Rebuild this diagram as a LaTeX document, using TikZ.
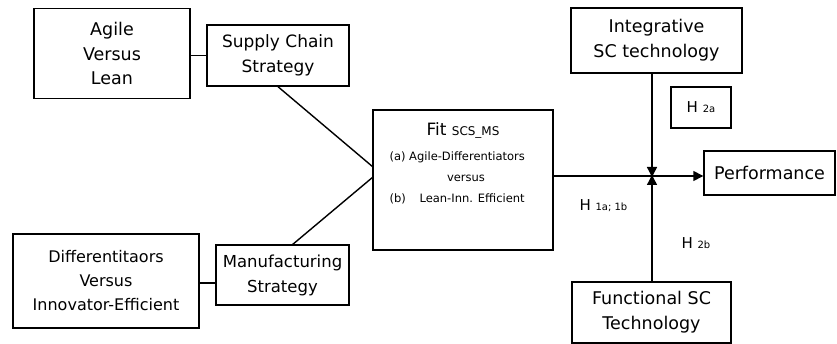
\documentclass[tikz,border=0pt]{standalone}
\usepackage{fontspec}
\setmainfont{DejaVu Sans}
\usetikzlibrary{arrows.meta}
\begin{document}
\begin{tikzpicture}[x=1pt,y=-1pt,
  box/.style={draw,line width=1.4pt,rectangle,inner sep=0pt,align=center},
  conn/.style={line width=1.4pt},
  arr/.style={line width=1.4pt,-{Triangle[length=10pt,width=10pt]}},
  lbl/.style={font=\fontsize{15}{18}\selectfont}]
\useasboundingbox (0,0) rectangle (837,344);
\node[box,minimum width=156pt,minimum height=90pt,font=\fontsize{17.5}{24.5}\selectfont] (agile) at (112,53.5) {Agile\\Versus\\Lean};
\node[box,minimum width=142pt,minimum height=61pt,font=\fontsize{17}{25}\selectfont] (scs) at (278,55.5) {Supply Chain\\Strategy};
\node[box,minimum width=186pt,minimum height=94pt,font=\fontsize{16}{24}\selectfont] (diff) at (106,281) {Differentitaors\\Versus\\Innovator-Efficient};
\node[box,minimum width=133pt,minimum height=60pt,font=\fontsize{16.5}{25}\selectfont] (ms) at (282.5,275) {Manufacturing\\Strategy};
\node[box,minimum width=180pt,minimum height=140pt] (fit) at (463,180) {};
\node[font=\fontsize{17}{20}\selectfont] (fitt) at (463,130) {Fit {\fontsize{12}{14}\selectfont SCS\_MS}};
\node[font=\fontsize{11.5}{14}\selectfont,anchor=west] (fa) at (386,157) {(a) Agile-Differentiators};
\node[font=\fontsize{11.5}{14}\selectfont] (fv) at (466,178) {versus};
\node[font=\fontsize{11.5}{14}\selectfont,anchor=west] (fb) at (386,199) {(b)\hspace{1.2em}Lean-Inn. Efficient};
\node[box,minimum width=171pt,minimum height=65pt,font=\fontsize{17.5}{25}\selectfont] (integ) at (656.5,40.5) {Integrative\\SC technology};
\node[box,minimum width=60pt,minimum height=41pt,lbl] (h2a) at (701,107.5) {H {\fontsize{10}{12}\selectfont 2a}};
\node[box,minimum width=131pt,minimum height=44pt,font=\fontsize{17.5}{20}\selectfont] (perf) at (769.5,173) {Performance};
\node[box,minimum width=159pt,minimum height=61pt,font=\fontsize{17.5}{25}\selectfont] (func) at (651.5,312.5) {Functional SC\\Technology};
\node[lbl,anchor=west] (h1) at (576,206) {H {\fontsize{10}{12}\selectfont 1a; 1b}};
\node[lbl,anchor=west] (h2b) at (678,243) {H {\fontsize{10}{12}\selectfont 2b}};
\coordinate (m1) at (373,167);
\coordinate (m2) at (373,177);
\coordinate (ms1) at (292,245);
\coordinate (J) at (652,176);
\draw[conn] (agile.east |- scs.west) -- (scs.west);
\draw[conn] (diff.east |- 0,283) -- (ms.west |- 0,283);
\draw[conn] (scs.south) -- (m1);
\draw[conn] (ms1) -- (m2);
\draw[arr] (fit.east |- J) -- (J -| perf.west);
\draw[arr] (J |- integ.south) -- ([yshift=-1pt]J);
\draw[arr] (J |- func.north) -- ([yshift=1pt]J);
\end{tikzpicture}
\end{document}
